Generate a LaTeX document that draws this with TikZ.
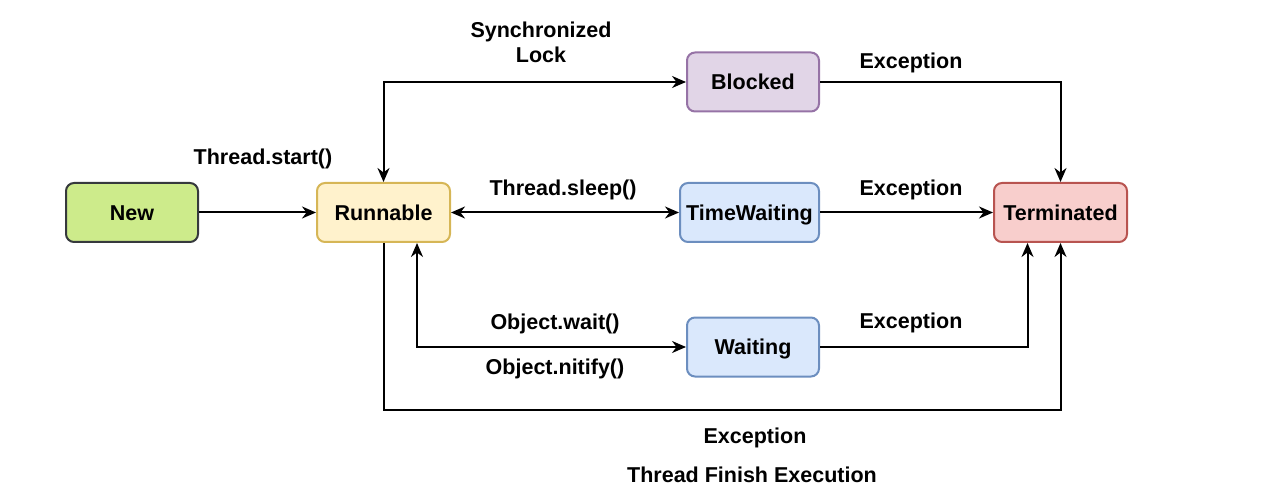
\documentclass[tikz,border=0pt]{standalone}
\usepackage{fontspec}
\setmainfont{Liberation Sans}
\usetikzlibrary{arrows.meta}

\definecolor{newfill}{HTML}{CDEB8B}
\definecolor{newline}{HTML}{36393D}
\definecolor{runfill}{HTML}{FFF2CC}
\definecolor{runline}{HTML}{D6B656}
\definecolor{blockfill}{HTML}{E1D5E7}
\definecolor{blockline}{HTML}{9673A6}
\definecolor{waitfill}{HTML}{DAE8FC}
\definecolor{waitline}{HTML}{6C8EBF}
\definecolor{termfill}{HTML}{F8CECC}
\definecolor{termline}{HTML}{B85450}

\tikzset{
  state/.style={draw, line width=2pt, rounded corners=8pt, minimum width=132pt,
    minimum height=59pt, inner sep=0pt, text height=15.5pt, text depth=0pt,
    font=\fontsize{21.5}{25}\selectfont\bfseries},
  lbl/.style={inner sep=0pt, align=center, text height=15.5pt, text depth=0pt,
    font=\fontsize{21.5}{25}\selectfont\bfseries},
  flow/.style={line width=2pt, >={Stealth[length=14pt,width=12pt,inset=4.5pt]}}
}

\begin{document}
\begin{tikzpicture}[x=1pt, y=-1pt]
  % Page frame
  \useasboundingbox (0,0) rectangle (1268,494);

  % States
  \node[state, fill=newfill, draw=newline] (new) at (132,212.5) {New};
  \node[state, fill=runfill, draw=runline, minimum width=133pt] (runnable) at (383.5,212.5) {Runnable};
  \node[state, fill=blockfill, draw=blockline] (blocked) at (753,82) {Blocked};
  \node[state, fill=waitfill, draw=waitline, minimum width=139pt] (timewait) at (749.5,212.5) {TimeWaiting};
  \node[state, fill=waitfill, draw=waitline] (waiting) at (753,347) {Waiting};
  \node[state, fill=termfill, draw=termline, minimum width=133pt] (terminated) at (1060.5,212.5) {Terminated};

  % Bend points of the long lines
  \coordinate (waitup) at ([xshift=33.5pt]runnable.south);
  \coordinate (waitin) at ([xshift=-33pt]terminated.south);
  \coordinate (finish) at (383.5,410);

  % Transitions
  \draw[flow, ->] (new) -- (runnable);
  \draw[flow, <->] (runnable.north) |- (blocked.west);
  \draw[flow, <->] (runnable) -- (timewait);
  \draw[flow, <->] (waitup) |- (waiting.west);
  \draw[flow, ->] (blocked.east) -| (terminated.north);
  \draw[flow, ->] (timewait) -- (terminated);
  \draw[flow, ->] (waiting.east) -| (waitin);
  \draw[flow, ->] (runnable.south) -- (finish) -| (terminated.south);

  % Labels
  \node[lbl] (start) at (263,157) {Thread.start()};
  \node[lbl, text height=40.5pt] (sync) at (541,42.5) {Synchronized\\Lock};
  \node[lbl] (sleep) at (563,188) {Thread.sleep()};
  \node[lbl] (wait) at (555,322) {Object.wait()};
  \node[lbl] (notify) at (555,367) {Object.nitify()};
  \foreach \y/\n in {61/1, 188/2, 321/3} {
    \node[lbl] (exc\n) at (911,\y) {Exception};
  }
  \node[lbl] (exc4) at (755,436) {Exception};
  \node[lbl] (done) at (752,475) {Thread Finish Execution};
\end{tikzpicture}
\end{document}
